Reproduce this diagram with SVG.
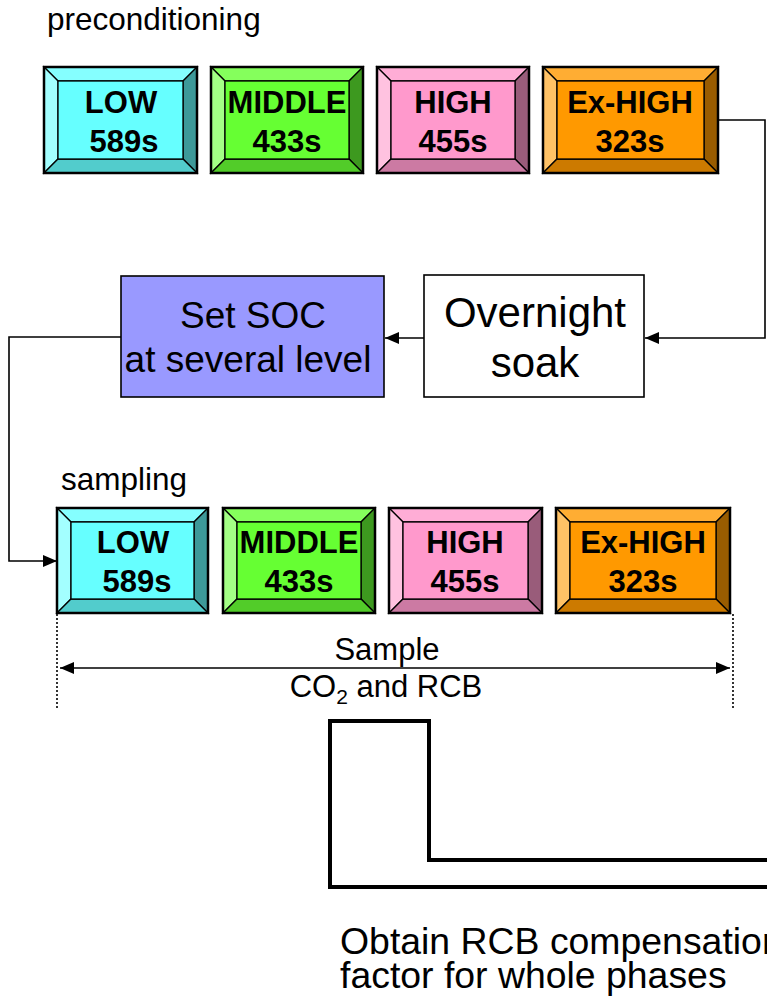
<svg xmlns="http://www.w3.org/2000/svg" width="767" height="996" viewBox="0 0 767 996">
<style>
text{font-family:"Liberation Sans",Arial,sans-serif;fill:#000}
.lbl{font-size:31.5px}
.bx{font-size:31px;font-weight:bold;text-anchor:middle}
.big{font-size:37px;text-anchor:middle}
.bv{stroke:#000;stroke-width:1.3;stroke-linejoin:miter}
.ol{fill:none;stroke:#000;stroke-width:2.5}
.ln{fill:none;stroke:#000;stroke-width:1.6}
.dot{fill:none;stroke:#000;stroke-width:1.6;stroke-dasharray:2 2}
.thick{fill:none;stroke:#000;stroke-width:4}
.cy .f{fill:#66FFFF}.cy .t{fill:#85FFFF}.cy .l{fill:#A3FFFF}.cy .r{fill:#3D9999}.cy .b{fill:#52CCCC}
.gr .f{fill:#66FF33}.gr .t{fill:#85FF5C}.gr .l{fill:#A3FF85}.gr .r{fill:#3D991F}.gr .b{fill:#52CC29}
.pk .f{fill:#FF99CC}.pk .t{fill:#FFADD6}.pk .l{fill:#FFC2E0}.pk .r{fill:#995C7A}.pk .b{fill:#CC7AA3}
.or .f{fill:#FF9900}.or .t{fill:#FFAD33}.or .l{fill:#FFC266}.or .r{fill:#995C00}.or .b{fill:#CC7A00}
</style>
<defs>
<marker id="ah" viewBox="0 0 14 12" refX="14" refY="6" markerWidth="14" markerHeight="12" markerUnits="userSpaceOnUse" orient="auto-start-reverse">
<path d="M0,0 L14,6 L0,12 Z" fill="#000"/>
</marker>
</defs>

<text class="lbl" x="47" y="30">preconditioning</text>

<g id="pre-low" class="cy" transform="translate(44,67)">
<polygon class="t bv" points="0,0 153,0 139,14 14,14"/>
<polygon class="l bv" points="0,0 14,14 14,92 0,106"/>
<polygon class="r bv" points="153,0 153,106 139,92 139,14"/>
<polygon class="b bv" points="0,106 14,92 139,92 153,106"/>
<rect class="f bv" x="14" y="14" width="125" height="78"/>
<rect class="ol" x="0" y="0" width="153" height="106"/>
<text class="bx" x="77" y="46">LOW</text>
<text class="bx" x="80" y="85">589s</text>
</g>

<g id="pre-middle" class="gr" transform="translate(211,67)">
<polygon class="t bv" points="0,0 152,0 138,14 14,14"/>
<polygon class="l bv" points="0,0 14,14 14,92 0,106"/>
<polygon class="r bv" points="152,0 152,106 138,92 138,14"/>
<polygon class="b bv" points="0,106 14,92 138,92 152,106"/>
<rect class="f bv" x="14" y="14" width="124" height="78"/>
<rect class="ol" x="0" y="0" width="152" height="106"/>
<text class="bx" x="76" y="46">MIDDLE</text>
<text class="bx" x="76" y="85">433s</text>
</g>

<g id="pre-high" class="pk" transform="translate(377,67)">
<polygon class="t bv" points="0,0 152,0 138,14 14,14"/>
<polygon class="l bv" points="0,0 14,14 14,92 0,106"/>
<polygon class="r bv" points="152,0 152,106 138,92 138,14"/>
<polygon class="b bv" points="0,106 14,92 138,92 152,106"/>
<rect class="f bv" x="14" y="14" width="124" height="78"/>
<rect class="ol" x="0" y="0" width="152" height="106"/>
<text class="bx" x="76" y="46">HIGH</text>
<text class="bx" x="76" y="85">455s</text>
</g>

<g id="pre-exhigh" class="or" transform="translate(543,67)">
<polygon class="t bv" points="0,0 175,0 161,14 14,14"/>
<polygon class="l bv" points="0,0 14,14 14,92 0,106"/>
<polygon class="r bv" points="175,0 175,106 161,92 161,14"/>
<polygon class="b bv" points="0,106 14,92 161,92 175,106"/>
<rect class="f bv" x="14" y="14" width="147" height="78"/>
<rect class="ol" x="0" y="0" width="175" height="106"/>
<text class="bx" x="87" y="46">Ex-HIGH</text>
<text class="bx" x="87" y="85">323s</text>
</g>

<g id="set-soc">
<rect x="121" y="276" width="263" height="121" fill="#9999FF" stroke="#000" stroke-width="1.6"/>
<text class="big" x="253" y="328">Set SOC</text>
<text class="big" x="248" y="372">at several level</text>
</g>

<g id="overnight-soak">
<rect x="424" y="275" width="220" height="122" fill="#FFFFFF" stroke="#000" stroke-width="1.6"/>
<text class="big" x="535" y="327" style="font-size:42px">Overnight</text>
<text class="big" x="535" y="377" style="font-size:42px">soak</text>
</g>

<text class="lbl" x="61" y="490">sampling</text>

<g id="smp-low" class="cy" transform="translate(57,508)">
<polygon class="t bv" points="0,0 151,0 137,14 14,14"/>
<polygon class="l bv" points="0,0 14,14 14,91 0,105"/>
<polygon class="r bv" points="151,0 151,105 137,91 137,14"/>
<polygon class="b bv" points="0,105 14,91 137,91 151,105"/>
<rect class="f bv" x="14" y="14" width="123" height="77"/>
<rect class="ol" x="0" y="0" width="151" height="105"/>
<text class="bx" x="76" y="45">LOW</text>
<text class="bx" x="80" y="84">589s</text>
</g>

<g id="smp-middle" class="gr" transform="translate(223,508)">
<polygon class="t bv" points="0,0 152,0 138,14 14,14"/>
<polygon class="l bv" points="0,0 14,14 14,91 0,105"/>
<polygon class="r bv" points="152,0 152,105 138,91 138,14"/>
<polygon class="b bv" points="0,105 14,91 138,91 152,105"/>
<rect class="f bv" x="14" y="14" width="124" height="77"/>
<rect class="ol" x="0" y="0" width="152" height="105"/>
<text class="bx" x="76" y="45">MIDDLE</text>
<text class="bx" x="76" y="84">433s</text>
</g>

<g id="smp-high" class="pk" transform="translate(389,508)">
<polygon class="t bv" points="0,0 153,0 139,14 14,14"/>
<polygon class="l bv" points="0,0 14,14 14,91 0,105"/>
<polygon class="r bv" points="153,0 153,105 139,91 139,14"/>
<polygon class="b bv" points="0,105 14,91 139,91 153,105"/>
<rect class="f bv" x="14" y="14" width="125" height="77"/>
<rect class="ol" x="0" y="0" width="153" height="105"/>
<text class="bx" x="76" y="45">HIGH</text>
<text class="bx" x="76" y="84">455s</text>
</g>

<g id="smp-exhigh" class="or" transform="translate(556,508)">
<polygon class="t bv" points="0,0 174,0 160,14 14,14"/>
<polygon class="l bv" points="0,0 14,14 14,91 0,105"/>
<polygon class="r bv" points="174,0 174,105 160,91 160,14"/>
<polygon class="b bv" points="0,105 14,91 160,91 174,105"/>
<rect class="f bv" x="14" y="14" width="146" height="77"/>
<rect class="ol" x="0" y="0" width="174" height="105"/>
<text class="bx" x="87" y="45">Ex-HIGH</text>
<text class="bx" x="87" y="84">323s</text>
</g>

<g id="connectors">
<polyline class="ln" points="718,120 765,120 765,338 645,338" marker-end="url(#ah)"/>
<line class="ln" x1="424" y1="338" x2="385" y2="338" marker-end="url(#ah)"/>
<polyline class="ln" points="121,337 9,337 9,561 57,561" marker-end="url(#ah)"/>
<line class="dot" x1="57" y1="614" x2="57" y2="708"/>
<line class="dot" x1="733" y1="614" x2="733" y2="708"/>
<line class="ln" x1="60" y1="668" x2="730" y2="668" marker-start="url(#ah)" marker-end="url(#ah)"/>
<polyline class="thick" points="770,860 429,860 429,721 330,721 330,887 770,887"/>
</g>

<g id="sample-label">
<text x="387" y="660" text-anchor="middle" style="font-size:31px">Sample</text>
<text x="386" y="697" text-anchor="middle" style="font-size:31px">CO<tspan font-size="21" dy="7">2</tspan><tspan dy="-7"> and RCB</tspan></text>
</g>

<g id="obtain-label">
<text x="340" y="954" style="font-size:37.4px">Obtain RCB compensation</text>
<text x="340" y="988" style="font-size:37.4px">factor for whole phases</text>
</g>
</svg>
